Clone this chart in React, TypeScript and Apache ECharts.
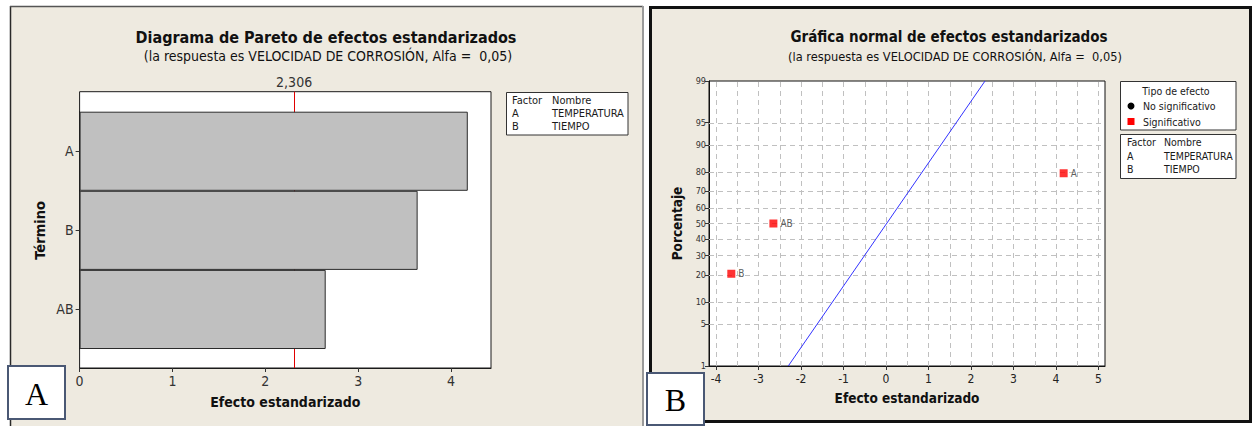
import React, { useEffect, useRef } from "react";
import * as echarts from "echarts";

// ---- Pareto chart (panel A) ----
const paretoTerms = ["AB", "B", "A"];
const paretoEffects = [2.65, 3.64, 4.18];
const criticalValue = 2.306;
const criticalLabel = "2,306";
const paretoTicks = [0, 1, 2, 3, 4];

// ---- Normal plot of effects (panel B) ----
const effectTerms = ["B", "AB", "A"];
const effectValues = [-3.64, -2.65, 4.18];
const effectPercents = [20.6, 50, 79.4];
const refLineX = [-2.3, 2.33];
const refLineP = [1, 99];
const percentTicks = [1, 5, 10, 20, 30, 40, 50, 60, 70, 80, 90, 95, 99];
const effectTicks = [-4, -3, -2, -1, 0, 1, 2, 3, 4, 5];
const effectGridLines = [-4, -3.5, -3, -2.5, -2, -1.5, -1, -0.5, 0, 0.5, 1, 1.5, 2, 2.5, 3, 3.5, 4, 4.5, 5];

// ---- Legend tables ----
const factorCodes = ["A", "B"];
const factorNames = ["TEMPERATURA", "TIEMPO"];

const FONT = "'DejaVu Sans Condensed', 'Liberation Sans', Arial, sans-serif";
const SERIF = "'Liberation Serif', 'DejaVu Serif', serif";
const PANEL_BG = "#eeeae0";

// Inverse of the standard normal CDF (Acklam's rational approximation)
function probit(p: number): number {
  const a = [-3.969683028665376e1, 2.209460984245205e2, -2.759285104469687e2, 1.38357751867269e2, -3.066479806614716e1, 2.506628277459239];
  const b = [-5.447609879822406e1, 1.615858368580409e2, -1.556989798598866e2, 6.680131188771972e1, -1.328068155288572e1];
  const c = [-7.784894002430293e-3, -3.223964580411365e-1, -2.400758277161838, -2.549732539343734, 4.374664141464968, 2.938163982698783];
  const d = [7.784695709041462e-3, 3.224671290700398e-1, 2.445134137142996, 3.754408661907416];
  const pl = 0.02425;
  if (p < pl) {
    const q = Math.sqrt(-2 * Math.log(p));
    return (((((c[0] * q + c[1]) * q + c[2]) * q + c[3]) * q + c[4]) * q + c[5]) / ((((d[0] * q + d[1]) * q + d[2]) * q + d[3]) * q + 1);
  }
  if (p > 1 - pl) {
    const q = Math.sqrt(-2 * Math.log(1 - p));
    return -(((((c[0] * q + c[1]) * q + c[2]) * q + c[3]) * q + c[4]) * q + c[5]) / ((((d[0] * q + d[1]) * q + d[2]) * q + d[3]) * q + 1);
  }
  const q = p - 0.5;
  const r = q * q;
  return ((((((a[0] * r + a[1]) * r + a[2]) * r + a[3]) * r + a[4]) * r + a[5]) * q) / (((((b[0] * r + b[1]) * r + b[2]) * r + b[3]) * r + b[4]) * r + 1);
}

const zOf = (pct: number) => probit(pct / 100);

function txt(text: string, x: number, y: number, opts: any = {}) {
  return {
    type: "text",
    x,
    y,
    z: 100,
    silent: true,
    style: {
      text,
      fill: opts.fill || "#1a1a1a",
      fontSize: opts.fontSize || 10,
      fontWeight: opts.fontWeight || "normal",
      fontFamily: opts.fontFamily || FONT,
      align: opts.align || "left",
      verticalAlign: "middle",
    },
  };
}

function box(x: number, y: number, w: number, h: number, stroke = "#333", lw = 1) {
  return {
    type: "rect",
    z: 90,
    silent: true,
    shape: { x, y, width: w, height: h },
    style: { fill: "#ffffff", stroke, lineWidth: lw },
  };
}

export default function App() {
  const ref = useRef<HTMLDivElement>(null);

  useEffect(() => {
    if (!ref.current) return;
    const chart = echarts.init(ref.current, undefined, { renderer: "svg" });

    const zTicks = percentTicks.map(zOf);
    const zMin = zOf(percentTicks[0]);
    const zMax = zOf(percentTicks[percentTicks.length - 1]);
    const innerPercents = percentTicks.slice(1, -1);

    const graphic: any[] = [
      // panel A background and edges
      { type: "rect", z: -10, silent: true, shape: { x: 10, y: 6, width: 633, height: 425 }, style: { fill: PANEL_BG } },
      { type: "line", z: -9, silent: true, shape: { x1: 10.5, y1: 6, x2: 10.5, y2: 426 }, style: { stroke: "#2a2a2a", lineWidth: 1.5 } },
      { type: "line", z: -9, silent: true, shape: { x1: 10, y1: 6.5, x2: 643, y2: 6.5 }, style: { stroke: "#555", lineWidth: 1.5 } },
      { type: "line", z: -9, silent: true, shape: { x1: 643, y1: 6, x2: 643, y2: 426 }, style: { stroke: "#9a9a9a", lineWidth: 2 } },
      // panel B background with heavy frame
      { type: "rect", z: -10, silent: true, shape: { x: 650.5, y: 7.5, width: 600, height: 414 }, style: { fill: PANEL_BG, stroke: "#111", lineWidth: 3 } },

      // titles
      txt("Diagrama de Pareto de efectos estandarizados", 326, 37, { fontSize: 16, fontWeight: "bold", align: "center", fill: "#111" }),
      txt("(la respuesta es VELOCIDAD DE CORROSIÓN, Alfa =  0,05)", 328, 56, { fontSize: 14, align: "center", fill: "#111" }),
      txt("Gráfica normal de efectos estandarizados", 949, 37, { fontSize: 15, fontWeight: "bold", align: "center", fill: "#111" }),
      txt("(la respuesta es VELOCIDAD DE CORROSIÓN, Alfa =  0,05)", 955, 56, { fontSize: 12.7, align: "center", fill: "#111" }),

      // factor table, panel A
      box(506.5, 92.5, 121.5, 42.5),
      txt("Factor", 512, 100.7, { fontSize: 11 }),
      txt("Nombre", 552, 100.7, { fontSize: 11 }),
      ...factorCodes.map((c, i) => txt(c, 512, 113.3 + i * 12.7, { fontSize: 11 })),
      ...factorNames.map((n, i) => txt(n, 552, 113.3 + i * 12.7, { fontSize: 11 })),

      // effect type legend, panel B
      box(1120.5, 81.5, 115.5, 48.5),
      txt("Tipo de efecto", 1176, 91, { align: "center", fontSize: 10.5 }),
      { type: "circle", z: 100, silent: true, shape: { cx: 1131, cy: 106, r: 3.5 }, style: { fill: "#000" } },
      txt("No significativo", 1143, 106, { fontSize: 10.5 }),
      { type: "rect", z: 100, silent: true, shape: { x: 1127.5, y: 118, width: 7, height: 7 }, style: { fill: "#ff0000" } },
      txt("Significativo", 1143, 121.7, { fontSize: 10.5 }),

      // factor table, panel B
      box(1120.5, 134.5, 115.5, 44),
      txt("Factor", 1127, 142.3, { fontSize: 10.5 }),
      txt("Nombre", 1164, 142.3, { fontSize: 10.5 }),
      ...factorCodes.map((c, i) => txt(c, 1127, 155.7 + i * 13, { fontSize: 10.5 })),
      ...factorNames.map((n, i) => txt(n, 1164, 155.7 + i * 13, { fontSize: 10.5 })),

      // panel letters
      box(8, 366, 57, 53, "#4a5874", 2),
      txt("A", 36.5, 394, { fontSize: 32, fontFamily: SERIF, align: "center", fill: "#000" }),
      box(647, 373, 57, 52, "#4a5874", 2),
      txt("B", 675.5, 400, { fontSize: 32, fontFamily: SERIF, align: "center", fill: "#000" }),
    ];

    const option: any = {
      animation: false,
      backgroundColor: "#ffffff",
      textStyle: { fontFamily: FONT },
      graphic,
      grid: [
        // Pareto frame
        { left: 79.6, top: 91.7, width: 411.4, height: 276.3, show: true, backgroundColor: "#ffffff", borderColor: "#1a1a1a", borderWidth: 1, outerBoundsMode: "none" },
        // Pareto bars
        { left: 79.6, top: 111.7, width: 411.4, height: 237.3, outerBoundsMode: "none" },
        // normal plot
        { left: 709, top: 81, width: 396, height: 285, show: true, backgroundColor: "#ffffff", borderColor: "#111", borderWidth: 1, outerBoundsMode: "none" },
      ],
      xAxis: [
        {
          gridIndex: 0,
          type: "value",
          min: 0,
          max: 4.43,
          axisLine: { show: true, onZero: false, lineStyle: { color: "#1a1a1a" } },
          axisTick: { show: true, customValues: paretoTicks, length: 4, lineStyle: { color: "#333" } },
          axisLabel: { customValues: paretoTicks, fontSize: 14, color: "#333", margin: 6 },
          splitLine: { show: false },
          name: "Efecto estandarizado",
          nameLocation: "middle",
          nameGap: 27,
          nameTextStyle: { fontSize: 14, fontWeight: "bold", color: "#111" },
        },
        { gridIndex: 1, type: "value", min: 0, max: 4.43, show: false },
        {
          gridIndex: 2,
          type: "value",
          min: -4.165,
          max: 5.153,
          axisLine: { show: true, onZero: false, lineStyle: { color: "#111" } },
          axisTick: { show: true, customValues: effectTicks, length: 4, lineStyle: { color: "#333" } },
          axisLabel: { customValues: effectTicks, fontSize: 12, color: "#222", margin: 7 },
          splitLine: { show: false },
          name: "Efecto estandarizado",
          nameLocation: "middle",
          nameGap: 25,
          nameTextStyle: { fontSize: 13.5, fontWeight: "bold", color: "#111" },
        },
      ],
      yAxis: [
        { gridIndex: 0, type: "value", min: 0, max: 1, show: false },
        {
          gridIndex: 1,
          type: "category",
          data: paretoTerms,
          axisLine: { show: true, onZero: false, lineStyle: { color: "#1a1a1a" } },
          axisTick: { show: true, alignWithLabel: true, length: 4, lineStyle: { color: "#333" } },
          axisLabel: { fontSize: 14, color: "#333", margin: 6 },
          name: "Término",
          nameLocation: "middle",
          nameRotate: 90,
          nameGap: 32,
          nameTextStyle: { fontSize: 14.5, fontWeight: "bold", color: "#111" },
        },
        {
          gridIndex: 2,
          type: "value",
          min: zMin,
          max: zMax,
          axisLine: { show: true, onZero: false, lineStyle: { color: "#111" } },
          axisTick: { show: true, customValues: zTicks, length: 4, lineStyle: { color: "#333" } },
          axisLabel: {
            customValues: zTicks,
            fontSize: 9,
            color: "#333",
            margin: 3,
            formatter: (v: number) => {
              let best = 0;
              zTicks.forEach((z, i) => {
                if (Math.abs(z - v) < Math.abs(zTicks[best] - v)) best = i;
              });
              return String(percentTicks[best]);
            },
          },
          splitLine: { show: false },
          name: "Porcentaje",
          nameLocation: "middle",
          nameRotate: 90,
          nameGap: 25,
          nameTextStyle: { fontSize: 13.5, fontWeight: "bold", color: "#111" },
        },
      ],
      series: [
        // critical t reference, kept beneath the bars
        {
          type: "line",
          xAxisIndex: 0,
          yAxisIndex: 0,
          data: [],
          z: 1,
          markLine: {
            z: 1,
            silent: true,
            symbol: ["none", "none"],
            lineStyle: { color: "#e00000", width: 1, type: "solid" },
            label: { show: true, position: "end", formatter: criticalLabel, fontSize: 14, color: "#333", distance: 3 },
            data: [{ xAxis: criticalValue }],
          },
        },
        {
          type: "bar",
          xAxisIndex: 1,
          yAxisIndex: 1,
          data: paretoEffects,
          barCategoryGap: "0%",
          z: 6,
          itemStyle: { color: "#c0c0c0", borderColor: "#2b2b2b", borderWidth: 1 },
        },
        // dashed reference grid of the normal plot
        {
          type: "line",
          xAxisIndex: 2,
          yAxisIndex: 2,
          data: [],
          z: 1,
          markLine: {
            z: 1,
            silent: true,
            symbol: ["none", "none"],
            label: { show: false },
            lineStyle: { color: "#c0c0c0", width: 1, type: [5, 4] },
            data: [
              ...effectGridLines.map((x) => ({ xAxis: x })),
              ...innerPercents.map((p) => ({ yAxis: zOf(p) })),
            ],
          },
        },
        {
          type: "line",
          xAxisIndex: 2,
          yAxisIndex: 2,
          data: refLineX.map((x, i) => [x, zOf(refLineP[i])]),
          symbol: "none",
          z: 3,
          lineStyle: { color: "#3333ff", width: 1 },
        },
        {
          type: "scatter",
          xAxisIndex: 2,
          yAxisIndex: 2,
          z: 4,
          symbol: "rect",
          symbolSize: 8,
          itemStyle: { color: "#ff0000" },
          label: { show: true, position: "right", formatter: "{b}", fontSize: 10, color: "#333", distance: 3 },
          data: effectTerms.map((t, i) => ({ name: t, value: [effectValues[i], zOf(effectPercents[i])] })),
        },
      ],
    };

    chart.setOption(option);
    return () => chart.dispose();
  }, []);

  return (
    <div
      ref={ref}
      style={{ position: "absolute", left: 0, top: 0, width: 1253, height: 426, background: "#fff" }}
    />
  );
}
